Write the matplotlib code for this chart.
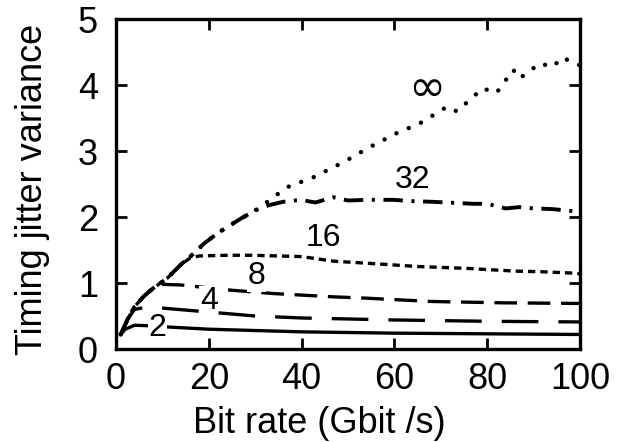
import matplotlib.pyplot as plt

plt.rcParams['font.family'] = ['Liberation Sans', 'DejaVu Sans']

# curves (label -> x, y)
x_2 = [1, 2, 4, 8, 12, 20, 30, 40, 60, 80, 100]
y_2 = [0.22, 0.3, 0.36, 0.35, 0.33, 0.3, 0.28, 0.26, 0.24, 0.23, 0.22]

x_4 = [1, 2.5, 4, 7, 10, 15, 20, 25, 30, 40, 60, 80, 100]
y_4 = [0.22, 0.45, 0.6, 0.64, 0.62, 0.59, 0.56, 0.53, 0.5, 0.47, 0.44, 0.42, 0.41]

x_8 = [1, 2.5, 4, 6, 8, 10, 14, 18, 25, 34, 47, 54, 68, 83, 100]
y_8 = [0.22, 0.45, 0.64, 0.8, 0.92, 0.98, 0.97, 0.94, 0.89, 0.84, 0.79, 0.77, 0.72, 0.7, 0.69]

x_16 = [1, 2.5, 4, 6, 8, 11, 14, 16, 18, 24, 29, 35, 40, 47, 54, 65, 76, 86, 92, 98.5, 100]
y_16 = [0.22, 0.45, 0.64, 0.8, 0.92, 1.07, 1.28, 1.38, 1.41, 1.42, 1.42, 1.41, 1.4, 1.33, 1.3,
        1.25, 1.22, 1.18, 1.17, 1.15, 1.14]

x_32 = [1, 2.5, 4, 6, 8, 11, 14, 16, 19, 22, 27, 30, 33, 36, 39.7, 43, 46.8, 50, 54, 59.7,
        64, 68.3, 77, 80, 84, 87, 90, 94, 97, 100]
y_32 = [0.22, 0.45, 0.64, 0.8, 0.92, 1.07, 1.28, 1.4, 1.6, 1.76, 1.98, 2.1, 2.18, 2.23, 2.26,
        2.22, 2.3, 2.25, 2.26, 2.26, 2.24, 2.23, 2.2, 2.2, 2.13, 2.15, 2.13, 2.12, 2.1, 2.08]

x_inf = [1, 2.5, 4, 6, 8, 11, 14, 16, 19, 22, 27, 30, 33, 36.8, 42.5, 49, 54.7, 60.5, 65.5,
         71.3, 73.5, 79, 82, 85.6, 87, 91.4, 94, 96.3, 98.5, 100]
y_inf = [0.22, 0.45, 0.64, 0.8, 0.92, 1.07, 1.28, 1.4, 1.6, 1.76, 1.98, 2.1, 2.25, 2.45, 2.6,
         2.83, 3.06, 3.27, 3.42, 3.67, 3.6, 3.95, 3.88, 4.23, 4.1, 4.33, 4.27, 4.42, 4.33, 4.3]

fig = plt.figure(figsize=(6.23, 4.42), dpi=100)
ax = fig.add_axes([0.1862, 0.2104, 0.7448, 0.7466])

lw = 2.4
ax.plot(x_2, y_2, color='black', lw=lw, solid_capstyle='butt')
ax.plot(x_4, y_4, color='black', lw=lw, dashes=(11, 6))
ax.plot(x_8, y_8, color='black', lw=lw, dashes=(6.8, 3.2))
ax.plot(x_16, y_16, color='black', lw=lw, dashes=(2.2, 1.5))
ax.plot(x_32, y_32, color='black', lw=2.8, dashes=(5, 2.2, 0.8, 2.2))
ax.plot(x_inf, y_inf, color='black', lw=3.2, dashes=(0.01, 3.0), dash_capstyle='round')

lab = dict(fontsize=23, ha='center', va='center',
           bbox=dict(facecolor='white', edgecolor='none', pad=0.5))
ax.text(9, 0.32, '2', **lab)
ax.text(20, 0.72, '4', **lab)
ax.text(30.3, 1.1, '8', **lab)
ax.text(44.7, 1.68, '16', **lab)
ax.text(64, 2.56, '32', **lab)
ax.text(67, 3.95, '∞', fontsize=32, ha='center', va='center', family=['DejaVu Sans'])

ax.set_xlim(0, 100)
ax.set_ylim(0, 5)
ax.set_xticks([0, 20, 40, 60, 80, 100])
ax.set_yticks([0, 1, 2, 3, 4, 5])
ax.tick_params(direction='in', length=8, width=2, labelsize=26, top=True, right=True)
ax.tick_params(axis='x', pad=9)
ax.tick_params(axis='y', pad=13)
for s in ax.spines.values():
    s.set_linewidth(2.4)

ax.set_xlabel('Bit rate (Gbit /s)', fontsize=26)
ax.set_ylabel('Timing jitter variance', fontsize=26)
ax.xaxis.set_label_coords(0.4375, -0.172)
ax.yaxis.set_label_coords(-0.142, 0.485)

fig.savefig('out.png', dpi=100)
